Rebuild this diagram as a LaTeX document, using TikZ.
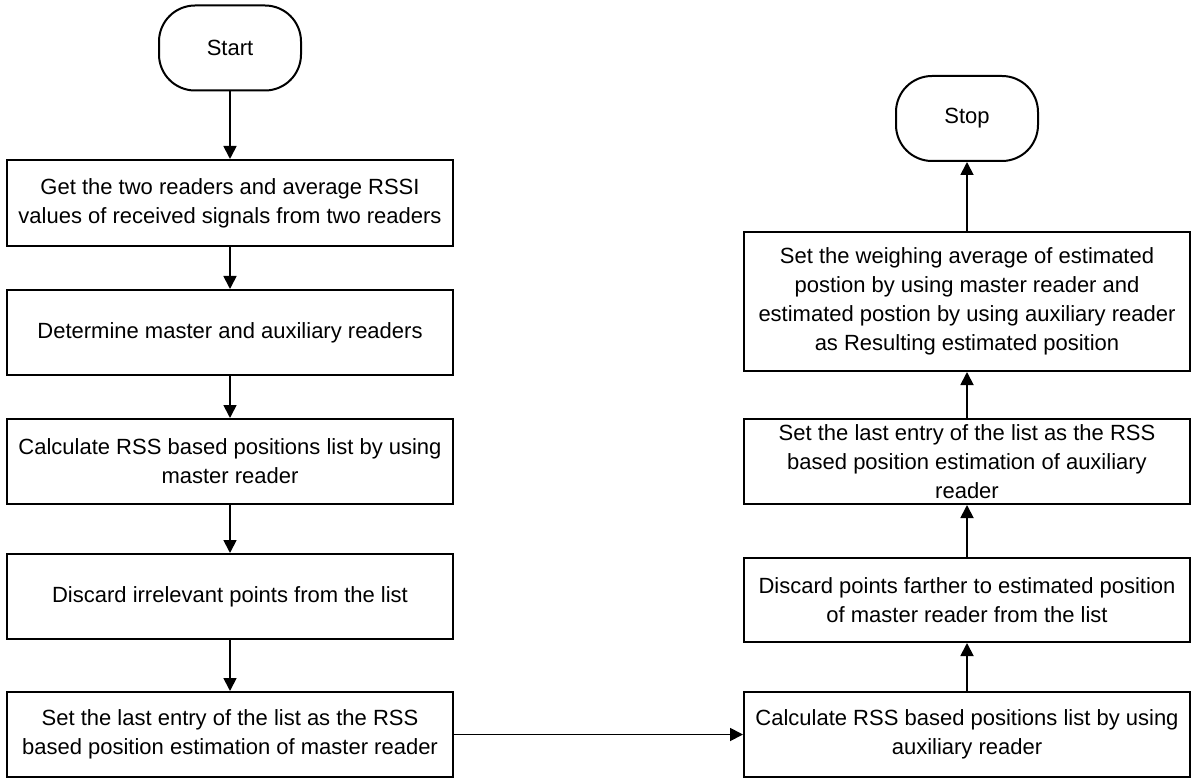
\documentclass[tikz,border=0pt]{standalone}
\usepackage{fontspec}
\setmainfont{Liberation Sans}
\usetikzlibrary{arrows.meta}
\begin{document}
\begin{tikzpicture}[x=1pt,y=1pt,
  box/.style={draw=black,line width=2pt,minimum width=446pt,inner sep=0pt,align=center,
    font=\fontsize{22}{29}\selectfont,text=black},
  term/.style={draw=black,line width=2pt,minimum width=142pt,minimum height=85pt,rounded corners=36pt,
    inner sep=0pt,align=center,font=\fontsize{22}{29}\selectfont},
  arr/.style={line width=1.8pt,-{Triangle[width=13pt,length=13pt]}}]
\useasboundingbox (0,0) rectangle (1192,-778);
\node[term] (start) at (230,-48) {Start};
\node[box,minimum height=86pt] (b1) at (230,-203) {Get the two readers and average RSSI\\values of received signals from two readers};
\node[box,minimum height=85pt] (b2) at (230,-332.5) {Determine master and auxiliary readers};
\node[box,minimum height=85pt] (b3) at (230,-461.5) {Calculate RSS based positions list by using\\master reader};
\node[box,minimum height=85pt] (b4) at (230,-596.5) {Discard irrelevant points from the list};
\node[box,minimum height=85pt] (b5) at (230,-734.5) {Set the last entry of the list as the RSS\\based position estimation of master reader};
\node[term] (stop) at (967,-118.5) {Stop};
\node[box,minimum height=139pt] (r1) at (967,-301.5) {Set the weighing average of estimated\\postion by using master reader and\\estimated postion by using auxiliary reader\\as Resulting estimated position};
\node[box,minimum height=85pt] (r2) at (967,-461.5) {Set the last entry of the list as the RSS\\based position estimation of auxiliary\\reader};
\node[box,minimum height=84pt] (r3) at (967,-600) {Discard points farther to estimated position\\of master reader from the list};
\node[box,minimum height=85pt] (r4) at (967,-734.5) {Calculate RSS based positions list by using\\auxiliary reader};
\draw[arr] (start) -- (b1);
\draw[arr] (b1) -- (b2);
\draw[arr] (b2) -- (b3);
\draw[arr] (b3) -- (b4);
\draw[arr] (b4) -- (b5);
\draw[arr] (b5) -- (r4);
\draw[arr] (r4) -- (r3);
\draw[arr] (r3) -- (r2);
\draw[arr] (r2) -- (r1);
\draw[arr] (r1) -- (stop);
\end{tikzpicture}
\end{document}
